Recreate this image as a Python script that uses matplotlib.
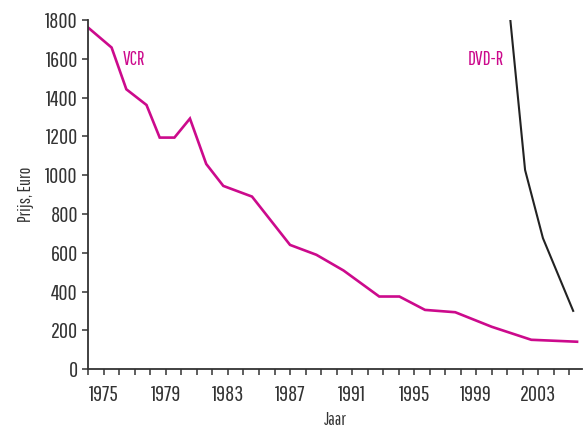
import numpy as np
import matplotlib
matplotlib.use('Agg')
import matplotlib.pyplot as plt
from matplotlib.ticker import MultipleLocator

# VCR price (Euro) per year
vcr_years = [1974.0, 1975.5, 1976.45, 1977.75, 1978.6, 1979.55, 1980.55, 1981.6,
             1982.7, 1984.55, 1987.0, 1988.7, 1990.45, 1992.75, 1994.05, 1995.7,
             1997.65, 2000.0, 2002.55, 2005.5]
vcr_prices = [1760, 1658, 1443, 1362, 1194, 1194, 1292, 1058,
              945, 890, 641, 590, 509, 375, 375, 306,
              294, 219, 152, 142]

# DVD-R price (Euro)
dvd_years = [2001.2, 2002.15, 2003.3, 2005.25]
dvd_prices = [1800, 1027, 676, 301]

year_ticks = [1975, 1979, 1983, 1987, 1991, 1995, 1999, 2003]
price_ticks = [0, 200, 400, 600, 800, 1000, 1200, 1400, 1600, 1800]

pink = '#cc0a8c'
dark = '#222222'

plt.rcParams['font.family'] = ['Pathway Gothic One', 'DejaVu Sans']

fig = plt.figure(figsize=(5.88, 4.30), dpi=100)
ax = fig.add_axes([0.1502, 0.1412, 0.8391, 0.8123])

ax.plot(vcr_years, vcr_prices, color=pink, linewidth=1.9, solid_joinstyle='miter')
ax.plot(dvd_years, dvd_prices, color=dark, linewidth=1.5, solid_joinstyle='miter')

ax.text(1976.2, 1595, 'VCR', color=pink, fontsize=14, ha='left', va='center')
ax.text(2000.8, 1595, 'DVD-R', color=pink, fontsize=14, ha='right', va='center')

ax.set_xlim(1974, 2005.8)
ax.set_ylim(0, 1800)
ax.set_xticks(year_ticks)
ax.xaxis.set_minor_locator(MultipleLocator(1))
ax.set_yticks(price_ticks)

ax.spines['top'].set_visible(False)
ax.spines['right'].set_visible(False)
for side in ['left', 'bottom']:
    ax.spines[side].set_linewidth(1.3)
    ax.spines[side].set_color('#333333')

ax.tick_params(axis='y', which='major', length=4.5, width=1.1, color='#333333',
               labelsize=16, labelcolor='#333333', pad=3)
ax.tick_params(axis='x', which='both', length=4, width=1.1, color='#333333',
               labelsize=16, labelcolor='#333333', pad=7)

ax.set_xlabel('Jaar', fontsize=13, color='#333333', labelpad=5)
ax.set_ylabel('Prijs, Euro', fontsize=13, color='#333333', labelpad=8)

fig.savefig('out.png', dpi=100)
